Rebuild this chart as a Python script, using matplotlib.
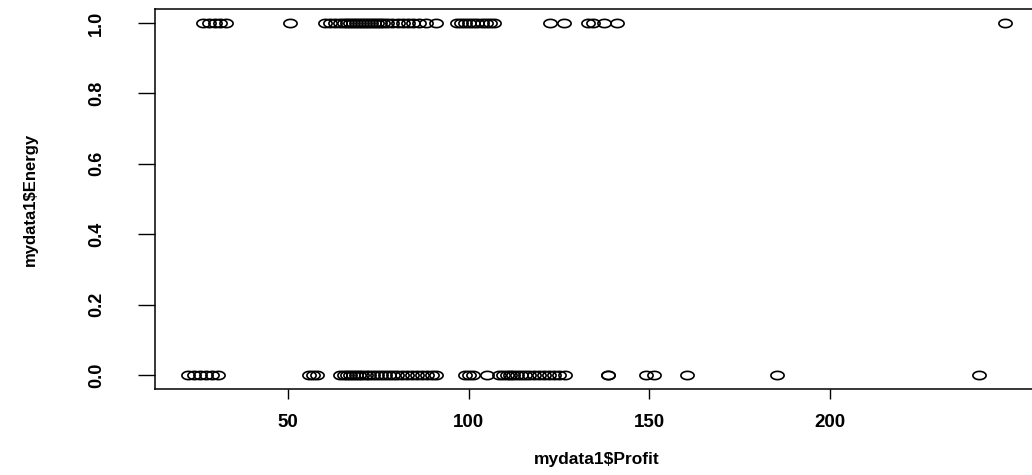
import numpy as np
import matplotlib.pyplot as plt
from matplotlib.path import Path

# profit values for the two energy groups
profit_energy1 = [26.4, 28.1, 29.7, 31.1, 32.8,
                  50.6,
                  60.2, 61.6, 63.0, 64.4, 65.5, 66.3, 67.1, 67.9, 68.8, 69.6,
                  70.5, 71.3, 72.1, 73.0, 73.8, 74.7, 75.5, 76.3, 77.4, 78.8,
                  80.5, 81.9, 83.3, 84.6, 86.3, 88.2,
                  90.9,
                  96.8, 98.0, 99.1, 100.2, 101.3, 102.4, 103.8, 104.9, 106.0, 107.1,
                  122.7, 126.5,
                  133.1, 134.5, 137.6, 141.2,
                  248.6]
profit_energy0 = [22.3, 23.9, 25.6, 27.3, 28.9, 30.6,
                  55.8, 56.9, 58.0,
                  64.4, 65.5, 66.3, 67.2, 68.0, 68.8, 69.7, 70.5, 71.6, 72.4,
                  73.5, 74.7, 75.8, 76.9, 78.0, 79.1, 80.2, 81.6, 83.0, 84.4,
                  85.7, 87.1, 88.5, 89.9, 91.0,
                  99.1, 100.2, 101.3,
                  105.2, 108.5, 109.6, 110.7, 111.5, 112.4, 113.5, 114.6, 115.7,
                  116.8, 118.2, 119.6, 121.0, 122.4, 123.7, 125.1, 126.8,
                  138.6, 138.6,
                  149.2, 151.4,
                  160.5,
                  185.4,
                  241.4]

profit = np.array(profit_energy1 + profit_energy0)
energy = np.array([1] * len(profit_energy1) + [0] * len(profit_energy0))

x_ticks = [50, 100, 150, 200]
y_ticks = [0.0, 0.2, 0.4, 0.6, 0.8, 1.0]
y_tick_labels = ["0.0", "0.2", "0.4", "0.6", "0.8", "1.0"]

# open ellipse marker (wider than tall)
t = np.linspace(0, 2 * np.pi, 60)
ellipse = Path(np.column_stack([1.6 * np.cos(t), np.sin(t)]), closed=True)

plt.rcParams['font.family'] = ['Liberation Sans', 'DejaVu Sans']

fig = plt.figure(figsize=(10.32, 4.75), dpi=100)
ax = fig.add_axes([0.1505, 0.181, 0.855, 0.800])

ax.plot(profit, energy, linestyle='none', marker=ellipse, markersize=9.5,
        markerfacecolor='none', markeredgecolor='black', markeredgewidth=1.2)

pad = 0.04 * (profit.max() - profit.min())
ax.set_xlim(profit.min() - pad, profit.max() + pad)
ax.set_ylim(-0.04, 1.04)

ax.set_xticks(x_ticks)
ax.set_yticks(y_ticks)
ax.set_yticklabels(y_tick_labels, rotation=90, va='center')

for s in ax.spines.values():
    s.set_linewidth(1.1)

ax.tick_params(axis='x', length=7, width=1.0, pad=11, labelsize=13.5)
ax.tick_params(axis='y', length=12, width=1.0, pad=24, labelsize=13)
for lab in ax.get_xticklabels() + ax.get_yticklabels():
    lab.set_fontweight('bold')

ax.set_xlabel("mydata1$Profit", fontsize=12.5, fontweight='bold', labelpad=15)
ax.set_ylabel("mydata1$Energy", fontsize=12, fontweight='bold', labelpad=36)

fig.savefig("out.png", dpi=100)
